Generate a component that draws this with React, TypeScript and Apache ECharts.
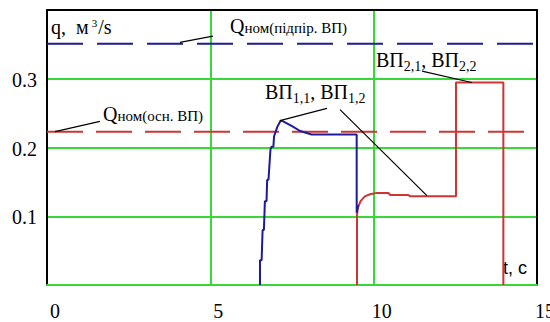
import React, { useEffect, useRef } from 'react';
import * as echarts from 'echarts';

// ---- data ----
const xTickLabels = [0, 5, 10, 15];
const yTickLabels = [0.1, 0.2, 0.3];
const qNomSupport = 0.351; // Qном(підпір. ВП)
const qNomMain = 0.223; // Qном(осн. ВП)

const vp1T = [6.52, 6.52, 6.57, 6.6, 6.64, 6.67, 6.72, 6.74, 6.78, 6.82, 6.84, 6.87, 6.93, 6.95, 7.05, 7.15, 7.23, 7.5, 7.75, 8.1, 9.48, 9.48, 9.5, 9.53];
const vp1Q = [0, 0.036, 0.036, 0.08, 0.08, 0.122, 0.122, 0.153, 0.153, 0.182, 0.197, 0.201, 0.201, 0.216, 0.23, 0.239, 0.238, 0.231, 0.224, 0.219, 0.219, 0.105, 0.11, 0.116];

const vp2T = [9.49, 9.49, 9.51, 9.53, 9.6, 9.73, 9.89, 10.1, 10.45, 10.5, 11.06, 11.11, 12.52, 12.52, 13.97, 13.97];
const vp2Q = [0, 0.102, 0.11, 0.114, 0.122, 0.129, 0.132, 0.134, 0.134, 0.131, 0.131, 0.129, 0.129, 0.2945, 0.2945, 0];

// leader lines: [t1, q1, t2, q2]
const leaders = [
  [4.07, 0.353, 5.08, 0.362],
  [0.245, 0.223, 1.62, 0.238],
  [7.13, 0.239, 8.57, 0.257],
  [8.97, 0.255, 11.63, 0.13],
  [11.48, 0.311, 13.0, 0.2945],
];

const GREEN = '#36d936';
const BLUE = '#1c1c96';
const RED = '#cf3434';
const SERIF = 'Liberation Serif';
const SANS = 'Liberation Sans';

const zip = (a: number[], b: number[]) => a.map((v, i) => [v, b[i]]);

export default function App() {
  const ref = useRef<HTMLDivElement>(null);
  useEffect(() => {
    document.body.style.margin = '0';
    if (!ref.current) return;
    const chart = echarts.init(ref.current, null, { renderer: 'svg' });
    const main = { fontFamily: SERIF, fontSize: 20, fill: '#000', verticalAlign: 'top' };
    const sub = { fontFamily: SERIF, fontSize: 14, fill: '#000', verticalAlign: 'top', padding: [9, 0, 0, 0] };
    const small = { fontFamily: SERIF, fontSize: 15, fill: '#000', verticalAlign: 'top', padding: [4, 0, 0, 0] };
    const sup = { fontFamily: SERIF, fontSize: 11, fill: '#000', verticalAlign: 'top', padding: [0, 1, 0, 3] };
    const txt = (x: number, y: number, text: string) => ({
      type: 'text',
      x,
      y,
      style: { text, fontFamily: SERIF, fontSize: 20, fill: '#000', rich: { a: main, s: sub, m: small, p: sup } },
    });
    const option: any = {
      animation: false,
      grid: { left: 47, right: 13, top: 10, bottom: 37, show: false },
      xAxis: [
        {
          type: 'value', min: 0, max: 15, interval: 5, position: 'bottom',
          axisLine: { show: true, onZero: false, lineStyle: { color: GREEN, width: 2 } },
          axisTick: { show: false },
          axisLabel: { show: false },
          splitLine: { show: true, showMinLine: false, showMaxLine: false, lineStyle: { color: GREEN, width: 2 } },
        },
        {
          type: 'value', min: 0, max: 15, position: 'top',
          axisLine: { show: true, onZero: false, lineStyle: { color: '#000', width: 2 } },
          axisTick: { show: false }, axisLabel: { show: false }, splitLine: { show: false },
        },
      ],
      yAxis: [
        {
          type: 'value', min: 0, max: 0.4, interval: 0.1, position: 'left',
          axisLine: { show: true, onZero: false, lineStyle: { color: '#000', width: 2 } },
          axisTick: { show: false },
          axisLabel: { show: false },
          splitLine: { show: true, showMinLine: false, showMaxLine: false, lineStyle: { color: GREEN, width: 2 } },
        },
        {
          type: 'value', min: 0, max: 0.4, position: 'right',
          axisLine: { show: true, onZero: false, lineStyle: { color: '#000', width: 2 } },
          axisTick: { show: false }, axisLabel: { show: false }, splitLine: { show: false },
        },
      ],
      series: [
        {
          type: 'line', symbol: 'none', silent: true,
          data: [[0, qNomMain], [15, qNomMain]],
          lineStyle: { color: RED, width: 2, type: [36, 13] },
        },
        {
          type: 'line', symbol: 'none', silent: true,
          data: [[0, qNomSupport], [15, qNomSupport]],
          lineStyle: { color: BLUE, width: 2, type: [36, 14] },
        },
        {
          type: 'line', symbol: 'none', silent: true,
          data: zip(vp2T, vp2Q),
          lineStyle: { color: RED, width: 2 },
        },
        {
          type: 'line', symbol: 'none', silent: true,
          data: zip(vp1T, vp1Q),
          lineStyle: { color: BLUE, width: 2 },
          markLine: {
            silent: true, symbol: ['none', 'none'], label: { show: false },
            lineStyle: { color: '#000', width: 1.2, type: 'solid' },
            emphasis: { disabled: true },
            data: leaders.map((l) => [{ coord: [l[0], l[1]] }, { coord: [l[2], l[3]] }]),
          },
        },
      ],
    };
    chart.setOption(option);

    // tick labels placed through the axes' own scales
    const y0 = chart.convertToPixel({ yAxisIndex: 0 }, 0) as number;
    const x0 = chart.convertToPixel({ xAxisIndex: 0 }, 0) as number;
    const tickTexts: any[] = [
      ...xTickLabels.map((v) => ({
        type: 'text',
        x: (chart.convertToPixel({ xAxisIndex: 0 }, v) as number) + 8,
        y: y0 + 16,
        style: { text: String(v), fontFamily: SERIF, fontSize: 20, fill: '#000', align: 'center', verticalAlign: 'top' },
      })),
      ...yTickLabels.map((v) => ({
        type: 'text',
        x: x0 - 10,
        y: (chart.convertToPixel({ yAxisIndex: 0 }, v) as number) + 1,
        style: { text: v.toFixed(1), fontFamily: SERIF, fontSize: 20, fill: '#000', align: 'right', verticalAlign: 'middle' },
      })),
    ];

    chart.setOption({
      graphic: [
        ...tickTexts,
        txt(51, 17, '{a|q,  м}{p|3}{a|/s}'),
        txt(230, 16, '{a|Q}{m|ном(підпір. ВП)}'),
        txt(103, 104, '{a|Q}{m|ном(осн. ВП)}'),
        txt(265, 82, '{a|ВП}{s|1,1}{a|, ВП}{s|1,2}'),
        txt(376, 50, '{a|ВП}{s|2,1}{a|, ВП}{s|2,2}'),
        {
          type: 'text', x: 503, y: 259,
          style: { text: 't, c', fontFamily: SANS, fontSize: 18, fill: '#000' },
        },
      ],
    });
    return () => chart.dispose();
  }, []);
  return <div ref={ref} style={{ width: 550, height: 322 }} />;
}
